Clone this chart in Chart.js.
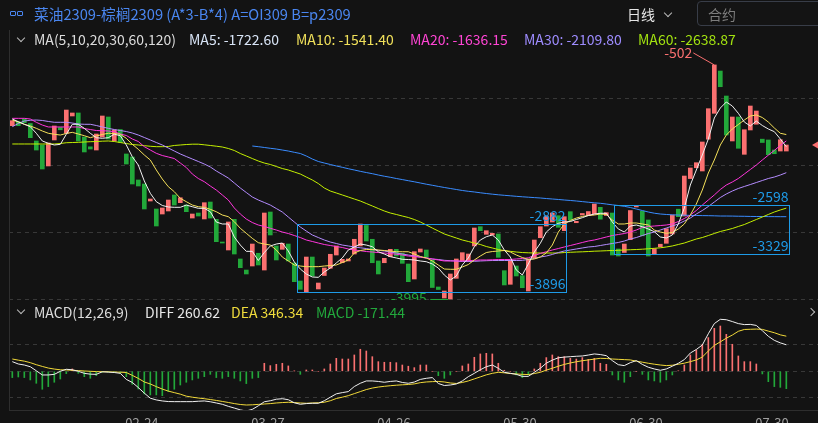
<!DOCTYPE html>
<html><head><meta charset="utf-8">
<script src="https://cdn.jsdelivr.net/npm/chart.js@4.4.0/dist/chart.umd.min.js"></script>
<style>
html,body{margin:0;padding:0;background:#131313;overflow:hidden;width:818px;height:423px;}
body{position:relative;font-family:"Noto Sans CJK SC","Noto Sans",sans-serif;}
.t{position:absolute;white-space:nowrap;line-height:1;}
canvas{position:absolute;left:0;}
.chev{position:absolute;width:5px;height:5px;border-right:1.6px solid #b8b8b8;border-bottom:1.6px solid #b8b8b8;transform:rotate(45deg);}
</style></head><body>
<canvas id="main" width="818" height="302" style="top:0"></canvas>
<canvas id="macd" width="818" height="140" style="top:300px"></canvas>

<div style="position:absolute;left:9px;top:30px;width:1px;height:380px;background:#2e2e2e"></div>
<div style="position:absolute;left:10px;top:11px;width:4px;height:3px;border:1.5px solid #4a86f0;border-radius:1px"></div>
<div style="position:absolute;left:17px;top:11px;width:4px;height:3px;border:1.5px solid #4a86f0;border-radius:1px"></div>
<div class="t" style="left:34px;top:7px;font-size:14.7px;color:#4a86f0">菜油2309-棕榈2309 (A*3-B*4) A=OI309 B=p2309</div>
<div class="t" style="left:627px;top:7px;font-size:14px;color:#e6e6e6">日线</div>
<div class="chev" style="left:665px;top:10px"></div>
<div style="position:absolute;left:697px;top:1px;width:140px;height:23px;border:1px solid #383d48;border-radius:4px;background:#141414"></div>
<div class="t" style="left:708px;top:7px;font-size:14px;color:#7e7e7e">合约</div>

<div class="chev" style="left:18px;top:35px"></div>
<div class="t" style="left:34px;top:32px;font-size:14px;color:#dcdcdc">MA(5,10,20,30,60,120)</div>
<div class="t" style="left:189px;top:32px;font-size:14px;color:#d8e4f6">MA5: -1722.60</div>
<div class="t" style="left:296px;top:32px;font-size:14px;color:#f0e05a">MA10: -1541.40</div>
<div class="t" style="left:410px;top:32px;font-size:14px;color:#ff45d4">MA20: -1636.15</div>
<div class="t" style="left:524px;top:32px;font-size:14px;color:#9e8cff">MA30: -2109.80</div>
<div class="t" style="left:638px;top:32px;font-size:14px;color:#a2e210">MA60: -2638.87</div>

<div class="chev" style="left:18px;top:307px"></div>
<div class="t" style="left:34px;top:305px;font-size:14px;color:#dcdcdc">MACD(12,26,9)</div>
<div class="t" style="left:145px;top:305px;font-size:14px;color:#e8e8e8">DIFF 260.62</div>
<div class="t" style="left:231px;top:305px;font-size:14px;color:#f0dc3c">DEA 346.34</div>
<div class="t" style="left:316px;top:305px;font-size:14px;color:#22a83c">MACD -171.44</div>
<div class="chev" style="left:808px;top:309px;transform:rotate(-45deg)"></div>

<script>
const opens = [
-1409,-1349,-1309,-1376,-1637,-1697,-2010,-1622,-1436,-1522,
-1264,-1219,-1578,-1724,-1772,-1578,-1279,-1637,-1466,-1831,
-1876,-2219,-2279,-2533,-2652,-2727,-2682,-2443,-2558,-2593,
-2787,-2712,-2801,-2548,-2806,-3145,-3264,-2806,-3398,-3563,
-3503,-3313,-3563,-2697,-3204,-3254,-3175,-3458,-3727,-3886,
-3369,-3846,-3645,-3537,-3339,-3454,-3428,-3324,-3204,-2898,
-3104,-3428,-3454,-3364,-3254,-3313,-3473,-3697,-3294,-3264,
-3413,-3816,-3981,-3995,-3687,-3428,-3439,-3204,-2916,-3030,
-3040,-3025,-3573,-3776,-3503,-3648,-3876,-3379,-3081,-2906,
-2846,-2752,-2976,-2692,-2857,-2742,-2749,-2727,-2627,-2749,
-2712,-3249,-3301,-3110,-2622,-2685,-2816,-3319,-3216,-3164,
-3025,-2655,-2757,-2198,-2036,-2085,-1610,-1224,-593,-966,
-1637,-1279,-1836,-1473,-1387,-1610,-1622,-1772,-1787,-1787];
const closes = [
-1334,-1409,-1364,-1588,-1772,-2055,-1667,-1413,-1470,-1175,
-1219,-1637,-1801,-1757,-1533,-1264,-1607,-1473,-1660,-1981,
-2279,-2309,-2652,-2503,-2906,-2637,-2518,-2593,-2484,-2692,
-2727,-2757,-2558,-2787,-3140,-3155,-2846,-3324,-3528,-3622,
-3175,-3488,-2712,-3040,-3413,-3164,-3428,-3737,-3851,-3369,
-3652,-3757,-3533,-3328,-3204,-3403,-3398,-3104,-2876,-3130,
-3454,-3622,-3388,-3254,-3354,-3463,-3737,-3289,-3249,-3369,
-3824,-3854,-3876,-3622,-3398,-3304,-3324,-2936,-2976,-2976,
-3015,-3373,-3786,-3413,-3652,-3827,-3398,-3115,-2916,-2757,
-2712,-2925,-2767,-2816,-2836,-2719,-2690,-2578,-2804,-2707,
-3339,-3354,-3175,-2675,-2597,-3052,-3354,-3245,-3178,-2946,
-2742,-2767,-2160,-2040,-1961,-1652,-1155,-502,-827,-1548,
-1279,-1746,-1469,-1115,-1190,-1660,-1842,-1827,-1618,-1697];
const ma5 = [
-1309,-1349,-1388,-1424,-1522,-1637,-1672,-1697,-1687,-1537,
-1388,-1388,-1448,-1522,-1588,-1597,-1588,-1537,-1558,-1697,
-1872,-1996,-2234,-2418,-2543,-2600,-2622,-2627,-2627,-2593,
-2618,-2642,-2642,-2693,-2846,-2876,-2876,-3070,-3190,-3284,
-3284,-3421,-3302,-3204,-3175,-3160,-3279,-3443,-3548,-3622,
-3667,-3672,-3592,-3533,-3458,-3383,-3264,-3219,-3175,-3190,
-3215,-3290,-3324,-3364,-3383,-3403,-3406,-3413,-3428,-3439,
-3473,-3533,-3637,-3712,-3652,-3488,-3383,-3215,-3115,-3066,
-3040,-3115,-3264,-3369,-3563,-3637,-3473,-3294,-3164,-2996,
-2916,-2866,-2846,-2839,-2809,-2782,-2749,-2727,-2716,-2716,
-2846,-2951,-2996,-2906,-2891,-2916,-2951,-2991,-3070,-3085,
-3040,-2876,-2637,-2294,-2070,-1846,-1607,-1294,-1145,-1055,
-1115,-1224,-1354,-1413,-1339,-1406,-1458,-1498,-1607,-1723];
const ma10 = [
-1324,-1354,-1388,-1413,-1448,-1488,-1522,-1537,-1548,-1525,
-1508,-1533,-1558,-1588,-1563,-1540,-1522,-1525,-1537,-1597,
-1687,-1761,-1846,-1921,-2070,-2205,-2319,-2394,-2493,-2543,
-2593,-2618,-2627,-2657,-2693,-2742,-2767,-2842,-2940,-3015,
-3090,-3155,-3175,-3190,-3264,-3369,-3428,-3488,-3503,-3513,
-3513,-3513,-3503,-3496,-3488,-3451,-3413,-3309,-3272,-3257,
-3257,-3264,-3272,-3279,-3290,-3290,-3290,-3324,-3361,-3383,
-3428,-3488,-3548,-3552,-3552,-3518,-3481,-3413,-3354,-3302,
-3287,-3279,-3272,-3294,-3339,-3376,-3406,-3398,-3369,-3309,
-3190,-2996,-2876,-2824,-2787,-2764,-2749,-2742,-2727,-2734,
-2816,-2876,-2876,-2861,-2861,-2876,-2891,-2966,-2996,-3015,
-3003,-2951,-2876,-2742,-2578,-2369,-2115,-1921,-1697,-1548,
-1458,-1391,-1324,-1264,-1249,-1287,-1354,-1443,-1522,-1541];
const ma20 = [
-1299,-1299,-1299,-1309,-1358,-1399,-1428,-1428,-1428,-1428,
-1428,-1428,-1451,-1466,-1481,-1484,-1488,-1498,-1533,-1555,
-1607,-1645,-1722,-1772,-1821,-1854,-1876,-1899,-1966,-2033,
-2130,-2197,-2245,-2309,-2369,-2443,-2518,-2637,-2727,-2802,
-2854,-2891,-2913,-2940,-2966,-2996,-3018,-3048,-3078,-3115,
-3137,-3160,-3182,-3197,-3212,-3227,-3249,-3264,-3275,-3287,
-3294,-3302,-3309,-3316,-3328,-3339,-3354,-3361,-3373,-3383,
-3398,-3413,-3428,-3428,-3428,-3428,-3424,-3418,-3413,-3413,
-3410,-3406,-3406,-3406,-3398,-3391,-3381,-3346,-3316,-3290,
-3264,-3242,-3219,-3197,-3175,-3152,-3130,-3115,-3093,-3070,
-3048,-3033,-3018,-2996,-2966,-2928,-2913,-2906,-2899,-2891,
-2876,-2839,-2794,-2742,-2675,-2593,-2518,-2443,-2361,-2294,
-2249,-2197,-2130,-2063,-1996,-1921,-1849,-1778,-1704,-1636];
const ma30 = [
-1424,-1376,-1339,-1328,-1324,-1331,-1346,-1358,-1358,-1358,
-1369,-1384,-1388,-1388,-1406,-1428,-1448,-1466,-1481,-1496,
-1518,-1548,-1585,-1622,-1660,-1697,-1742,-1787,-1831,-1869,
-1906,-1943,-1981,-2025,-2085,-2137,-2190,-2264,-2339,-2406,
-2473,-2518,-2555,-2593,-2645,-2697,-2772,-2846,-2921,-2981,
-3040,-3078,-3115,-3145,-3167,-3190,-3204,-3219,-3231,-3242,
-3257,-3269,-3279,-3294,-3309,-3324,-3339,-3354,-3369,-3383,
-3398,-3406,-3418,-3424,-3428,-3436,-3436,-3433,-3428,-3424,
-3421,-3421,-3421,-3421,-3421,-3418,-3406,-3391,-3369,-3354,
-3331,-3302,-3279,-3264,-3249,-3234,-3219,-3212,-3197,-3182,
-3167,-3152,-3130,-3100,-3078,-3048,-3018,-2996,-2966,-2936,
-2906,-2876,-2831,-2787,-2727,-2675,-2615,-2548,-2481,-2428,
-2384,-2346,-2316,-2287,-2257,-2227,-2197,-2175,-2145,-2110];
const ma60 = [
-1682,-1682,-1682,-1682,-1682,-1682,-1682,-1682,-1675,-1663,
-1660,-1657,-1652,-1648,-1645,-1640,-1637,-1645,-1660,-1675,
-1690,-1697,-1707,-1716,-1722,-1722,-1719,-1704,-1697,-1690,
-1685,-1685,-1694,-1704,-1715,-1727,-1749,-1779,-1824,-1861,
-1899,-1936,-1966,-1988,-2018,-2048,-2070,-2100,-2130,-2175,
-2219,-2272,-2339,-2384,-2413,-2443,-2473,-2503,-2533,-2570,
-2607,-2645,-2682,-2712,-2734,-2757,-2779,-2809,-2846,-2891,
-2936,-2981,-3025,-3055,-3085,-3115,-3137,-3160,-3182,-3212,
-3234,-3257,-3272,-3284,-3294,-3302,-3306,-3309,-3309,-3309,
-3309,-3309,-3302,-3298,-3294,-3291,-3287,-3282,-3279,-3275,
-3272,-3269,-3264,-3260,-3257,-3252,-3246,-3239,-3231,-3219,
-3204,-3182,-3160,-3130,-3100,-3078,-3048,-3018,-2988,-2966,
-2943,-2913,-2884,-2846,-2809,-2772,-2734,-2697,-2667,-2639];
const ma120 = [
null,null,null,null,null,null,null,null,null,null,
null,null,null,null,null,null,null,null,null,null,
null,null,null,null,null,null,null,null,null,null,
null,null,null,null,null,null,null,null,null,null,
-1712,-1722,-1734,-1746,-1757,-1772,-1787,-1806,-1824,-1861,
-1906,-1943,-1966,-1988,-2010,-2030,-2051,-2070,-2090,-2108,
-2125,-2145,-2163,-2179,-2197,-2213,-2230,-2246,-2264,-2282,
-2298,-2315,-2331,-2346,-2361,-2376,-2388,-2398,-2410,-2421,
-2431,-2440,-2448,-2455,-2463,-2470,-2476,-2482,-2488,-2496,
-2503,-2510,-2518,-2525,-2533,-2542,-2551,-2560,-2567,-2578,
-2590,-2600,-2612,-2630,-2652,-2675,-2697,-2715,-2727,-2734,
-2739,-2742,-2745,-2748,-2749,-2751,-2752,-2754,-2757,-2757,
-2758,-2760,-2761,-2763,-2764,-2764,-2766,-2766,-2767,-2767];
const macdHist = [
-62,-56,-62,-85,-118,-177,-151,-108,-76,-23,
23,-20,-53,-69,-43,-10,-7,-13,-20,-53,
-128,-174,-223,-233,-233,-240,-200,-177,-135,-108,
-85,-69,-53,-30,-62,-69,-53,-69,-95,-121,
-69,-62,79,56,69,79,53,3,-30,13,
13,0,23,72,128,121,121,161,217,200,
144,95,89,89,85,62,50,36,62,62,
0,-43,-69,-36,0,53,72,138,171,177,
171,79,10,0,-36,-62,-36,23,79,135,
161,144,144,128,121,135,118,128,79,69,
-36,-85,-108,-53,0,-30,-85,-95,-108,-85,
-36,5,62,161,210,266,332,423,446,364,
266,151,95,95,72,-26,-102,-151,-158,-171];
const diff = [
95,72,62,45,5,-36,-36,-30,0,20,
15,0,-20,-28,-30,-5,-8,-12,-20,-80,
-110,-160,-215,-265,-282,-292,-298,-299,-299,-299,
-299,-295,-292,-300,-312,-325,-345,-362,-380,-391,
-375,-340,-300,-290,-275,-270,-280,-310,-325,-318,
-315,-315,-290,-255,-222,-210,-200,-150,-118,-95,
-95,-100,-108,-100,-95,-110,-118,-106,-80,-69,
-62,-120,-140,-135,-125,-95,-53,-20,15,45,
62,30,-10,-20,-30,-50,-50,-10,30,80,
110,133,140,144,148,151,160,171,165,154,
105,65,56,85,105,68,40,23,10,23,
50,79,115,180,215,259,370,470,512,508,
490,470,460,462,452,400,345,305,280,261];
const dea = [
121,110,100,85,65,48,32,22,15,13,
10,7,3,0,-3,-4,-5,-7,-9,-12,
-40,-70,-105,-125,-151,-175,-195,-210,-225,-245,
-255,-263,-270,-278,-287,-297,-307,-318,-327,-332,
-330,-326,-322,-318,-312,-308,-305,-308,-312,-315,
-312,-310,-305,-290,-268,-255,-240,-220,-200,-180,
-165,-155,-148,-142,-137,-133,-130,-124,-112,-105,
-102,-100,-105,-115,-120,-110,-95,-75,-55,-35,
-20,-10,-15,-22,-26,-30,-32,-22,-10,12,
30,50,68,82,94,104,112,120,128,126,
121,118,115,112,100,90,79,70,62,56,
60,69,80,95,112,140,200,255,290,326,
357,394,412,414,416,413,396,380,359,346];
const xTickPos = [21.6, 42.6, 63.6, 84.6, 105.6, 126.6];
const xTickLabels = ['02-24','03-27','04-26','05-30','06-30','07-30'];
const priceGrid = [-1000,-2000,-3000,-4000];
const macdGrid = [-260,0,260];
const boxes = [
  {from:47.4, to:92.3, hi:-2882, lo:-3896},
  {from:100.33, to:129.4, hi:-2598, lo:-3329}
];

const RED='#fa7070', GREEN='#22a83a';
const FONT='"Noto Sans CJK SC","Noto Sans",sans-serif';
const X_MIN=-0.55, X_MAX=134.28;
const pts = arr => arr.map((v,i)=>({x:i,y:v}));

const candleData = opens.map((o,i)=>({x:i, y:[o, closes[i]]}));
const candleColors = opens.map((o,i)=> closes[i]>=o ? RED : GREEN);

const lineDs = (arr,color) => ({type:'line', data:pts(arr), borderColor:color, borderWidth:1, pointRadius:0, tension:0, order:1, spanGaps:false});

const annot = {
  id:'annot',
  afterDatasetsDraw(chart){
    const {ctx, scales:{x,y}} = chart;
    ctx.save();
    ctx.beginPath(); ctx.rect(0,0,818,300); ctx.clip();
    ctx.font = '14px '+FONT;
    ctx.lineWidth = 1;
    boxes.forEach(b=>{
      const x0 = Math.round(x.getPixelForValue(b.from))+0.5, x1 = Math.round(x.getPixelForValue(b.to))+0.5;
      const y0 = Math.round(y.getPixelForValue(b.hi))+0.5, y1 = Math.round(y.getPixelForValue(b.lo))+0.5;
      ctx.strokeStyle = '#1e9be8';
      ctx.strokeRect(x0, y0, x1-x0, y1-y0);
      ctx.fillStyle = '#1e9be8'; ctx.textAlign='right'; ctx.textBaseline='alphabetic';
      ctx.fillText(String(b.hi), x1-1, y0-3.5);
      ctx.fillText(String(b.lo), x1-1, y1-3.5);
    });
    let hi=-Infinity, hiI=0, lo=Infinity, loI=0;
    opens.forEach((o,i)=>{const t=Math.max(o,closes[i]), b=Math.min(o,closes[i]); if(t>hi){hi=t;hiI=i;} if(b<lo){lo=b;loI=i;}});
    let px = x.getPixelForValue(hiI), py = y.getPixelForValue(hi);
    ctx.strokeStyle = RED; ctx.fillStyle = RED;
    ctx.beginPath(); ctx.moveTo(px-21, py-12); ctx.lineTo(px, py); ctx.stroke();
    ctx.textAlign='right'; ctx.fillText(String(hi), px-22, py-6.5);
    px = x.getPixelForValue(loI); py = y.getPixelForValue(lo);
    ctx.strokeStyle = GREEN; ctx.fillStyle = GREEN;
    ctx.beginPath(); ctx.moveTo(px-20, py+0.5); ctx.lineTo(px-2, py+0.5); ctx.stroke();
    ctx.fillText(String(lo), px-23.5, py+4);
    const ly = y.getPixelForValue(closes[closes.length-1]);
    ctx.fillStyle = RED;
    ctx.beginPath(); ctx.moveTo(812, ly); ctx.lineTo(818, ly-3.5); ctx.lineTo(818, ly+3.5); ctx.closePath(); ctx.fill();
    ctx.restore();
  }
};

new Chart(document.getElementById('main'), {
  type:'bar',
  data:{datasets:[
    lineDs(ma5,'#f2f2f2'),
    lineDs(ma10,'#f5e15a'),
    lineDs(ma20,'#ff36dc'),
    lineDs(ma30,'#b48cff'),
    lineDs(ma60,'#c4f000'),
    lineDs(ma120,'#3a8cff'),
    {type:'bar', data:candleData, backgroundColor:candleColors, borderWidth:0, barThickness:4, minBarLength:1, order:10}
  ]},
  options:{
    responsive:false, animation:false, devicePixelRatio:1,
    layout:{padding:{left:9,right:0,top:0,bottom:0}},
    plugins:{legend:{display:false}, tooltip:{enabled:false}},
    scales:{
      x:{type:'linear', min:X_MIN, max:X_MAX, display:false, offset:false, grid:{offset:false}},
      y:{min:-4040.2, max:467.1,
         afterBuildTicks:s=>{s.ticks = priceGrid.map(v=>({value:v}));},
         afterFit:s=>{s.width=0;},
         ticks:{display:false},
         grid:{color:'#383838', lineWidth:1, drawTicks:false},
         border:{display:false, dash:[4,4]}}
    }
  },
  plugins:[annot]
});

new Chart(document.getElementById('macd'), {
  type:'bar',
  data:{datasets:[
    {type:'line', data:pts(diff), borderColor:'#f0f0f0', borderWidth:1, pointRadius:0, order:1},
    {type:'line', data:pts(dea), borderColor:'#f2da3a', borderWidth:1, pointRadius:0, order:2},
    {type:'bar', data:pts(macdHist), backgroundColor:macdHist.map(v=>v>=0?RED:GREEN), borderWidth:0, barThickness:1, order:10}
  ]},
  options:{
    responsive:false, animation:false, devicePixelRatio:1,
    layout:{padding:{left:9,right:0,top:0,bottom:0}},
    plugins:{legend:{display:false}, tooltip:{enabled:false}},
    scales:{
      x:{type:'linear', min:X_MIN, max:X_MAX, position:'bottom', offset:false,
         afterBuildTicks:s=>{s.ticks = xTickPos.map(v=>({value:v}));},
         afterFit:s=>{s.height=30;},
         ticks:{autoSkip:false, maxRotation:0, padding:5, color:'#a0a0a0', font:{size:13, family:FONT},
                callback:(v,i)=>xTickLabels[i]},
         grid:{display:false, drawTicks:false, offset:false},
         border:{display:true, color:'#2e2e2e', width:1}},
      y:{min:-381.2, max:702.3,
         afterBuildTicks:s=>{s.ticks = macdGrid.map(v=>({value:v}));},
         afterFit:s=>{s.width=0;},
         ticks:{display:false},
         grid:{color:'#383838', lineWidth:1, drawTicks:false},
         border:{display:false, dash:[4,4]}}
    }
  }
});
</script>
</body></html>
